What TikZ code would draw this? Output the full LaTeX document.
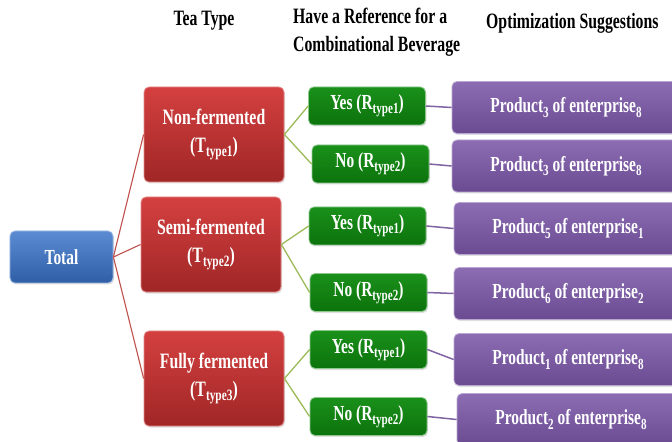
\documentclass[tikz,border=0pt]{standalone}
\usepackage{fontspec}
\usepackage{graphicx}
\setmainfont[FakeStretch=0.72]{Liberation Serif}
\usetikzlibrary{shadows}
\definecolor{bluetop}{HTML}{5B8CD2}
\definecolor{bluebot}{HTML}{2F5EA6}
\definecolor{redtop}{HTML}{D44040}
\definecolor{redbot}{HTML}{A02626}
\definecolor{greentop}{HTML}{1A901A}
\definecolor{greenbot}{HTML}{0C730C}
\definecolor{purtop}{HTML}{8C6DB3}
\definecolor{purbot}{HTML}{6A4B92}
\definecolor{redline}{HTML}{C0504D}
\definecolor{greenline}{HTML}{9BBB59}
\definecolor{purline}{HTML}{8064A2}
\newcommand\lowtext[1]{\raisebox{-0.2em}{\scalebox{0.72}{#1}}}
\begin{document}
\begin{tikzpicture}[x=1bp,y=-1bp,
  box/.style={rounded corners=5bp, text=white, align=center, inner sep=2bp,
    font=\fontsize{21.5}{24}\selectfont\bfseries,
    drop shadow={opacity=0.25, shadow xshift=1bp, shadow yshift=-1.5bp}},
  totbox/.style={box, minimum width=103bp, minimum height=52bp, top color=bluetop, bottom color=bluebot, draw=bluetop!60!white, line width=0.8bp},
  redbox/.style={box, minimum width=140bp, minimum height=95bp, top color=redtop, bottom color=redbot, draw=redtop!60!white, line width=0.8bp, font=\fontsize{22}{28}\selectfont\bfseries},
  grnbox/.style={box, minimum width=117bp, minimum height=38bp, top color=greentop, bottom color=greenbot, draw=greentop!50!white, line width=0.8bp},
  purbox/.style={box, minimum width=228bp, minimum height=52bp, top color=purtop, bottom color=purbot, draw=purtop!60!white, line width=0.8bp},
  head/.style={font=\fontsize{22}{28}\selectfont\bfseries, text=black, inner sep=0pt},
  rline/.style={draw=redline, line width=1.1bp},
  gline/.style={draw=greenline, line width=1.3bp},
  pline/.style={draw=purline, line width=1.5bp}]
\clip (0,0) rectangle (672,442);
\fill[white] (0,0) rectangle (672,442);
% headers
\node[head] (h1) at (204,21) {Tea Type};
\node[head, anchor=north west, align=left] (h2) at (293,8) {Have a Reference for a\\Combinational Beverage};
\node[head, anchor=west] (h3) at (486,23) {Optimization Suggestions};
% total
\node[totbox] (tot) at (61.5,257) {Total};
% tea types
\node[redbox] (r1) at (214,134.5) {Non-fermented\\(T\lowtext{type1})};
\node[redbox] (r2) at (211,244.5) {Semi-fermented\\(T\lowtext{type2})};
\node[redbox] (r3) at (214,378.5) {Fully fermented\\(T\lowtext{type3})};
% reference
\node[grnbox] (g1) at (367,106) {Yes (R\lowtext{type1})};
\node[grnbox] (g2) at (370.5,164) {No (R\lowtext{type2})};
\node[grnbox] (g3) at (367.5,226) {Yes (R\lowtext{type1})};
\node[grnbox] (g4) at (368.5,292.5) {No (R\lowtext{type2})};
\node[grnbox] (g5) at (368.5,349.5) {Yes (R\lowtext{type1})};
\node[grnbox] (g6) at (368.5,416.5) {No (R\lowtext{type2})};
% suggestions
\node[purbox] (p1) at (566,107.5) {Product\lowtext{3} of enterprise\lowtext{8}};
\node[purbox] (p2) at (566,166) {Product\lowtext{3} of enterprise\lowtext{8}};
\node[purbox] (p3) at (568,228.5) {Product\lowtext{5} of enterprise\lowtext{1}};
\node[purbox] (p4) at (568,293.5) {Product\lowtext{6} of enterprise\lowtext{2}};
\node[purbox] (p5) at (568,359.5) {Product\lowtext{1} of enterprise\lowtext{8}};
\node[purbox] (p6) at (571,419.5) {Product\lowtext{2} of enterprise\lowtext{8}};
% connectors
\draw[rline] (tot.east) -- (r1.west);
\draw[rline] (tot.east) -- (r2.west);
\draw[rline] (tot.east) -- (r3.west);
\draw[gline] (r1.east) -- (g1.west);
\draw[gline] (r1.east) -- (g2.west);
\draw[gline] (r2.east) -- (g3.west);
\draw[gline] (r2.east) -- (g4.west);
\draw[gline] (r3.east) -- (g5.west);
\draw[gline] (r3.east) -- (g6.west);
\draw[pline] (g1.east) -- (p1.west);
\draw[pline] (g2.east) -- (p2.west);
\draw[pline] (g3.east) -- (p3.west);
\draw[pline] (g4.east) -- (p4.west);
\draw[pline] (g5.east) -- (p5.west);
\draw[pline] (g6.east) -- (p6.west);
\end{tikzpicture}
\end{document}
